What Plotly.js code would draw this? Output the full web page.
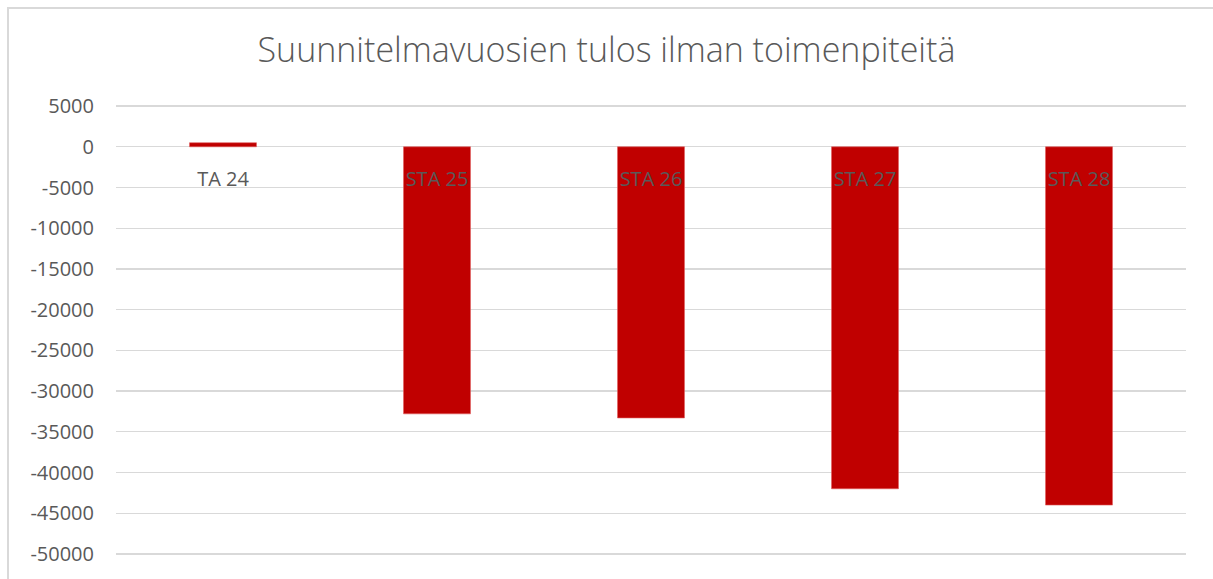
<!DOCTYPE html>
<html>
<head>
<meta charset="utf-8">
<script src="https://cdn.plot.ly/plotly-3.0.1.min.js"></script>
<style>
  html, body { margin: 0; padding: 0; background: #ffffff; }
  #wrap { position: relative; width: 1213px; height: 579px; }
  #chart { position: absolute; left: 0; top: 0; width: 1213px; height: 579px; }
  #frame { position: absolute; left: 7px; top: 7px; width: 1206px; height: 572px;
           border-top: 2px solid #d9d9d9; border-left: 2px solid #d9d9d9; box-sizing: border-box; pointer-events: none; }
</style>
</head>
<body>
<div id="wrap">
  <div id="chart"></div>
  <div id="frame"></div>
</div>
<script>
const categories = ["TA 24", "STA 25", "STA 26", "STA 27", "STA 28"];
const values = [500, -32800, -33300, -42000, -44000];
const yTicks = [5000, 0, -5000, -10000, -15000, -20000, -25000, -30000, -35000, -40000, -45000, -50000];
const yMin = -50500, yMax = 5500;
const titleText = "Suunnitelmavuosien tulos ilman toimenpiteitä";

const FONT = "'Open Sans', 'Noto Sans', sans-serif";
const GRAY = "#595959";

const trace = {
  type: "bar",
  x: categories,
  y: values,
  marker: { color: "#C00000", line: { color: "#e06060", width: 0.6 } },
  hoverinfo: "x+y"
};

const layout = {
  width: 1213,
  height: 579,
  paper_bgcolor: "#ffffff",
  plot_bgcolor: "#ffffff",
  margin: { l: 115.5, r: 26.5, t: 102.2, b: 20.6, pad: 0 },
  showlegend: false,
  bargap: 0.687,
  title: {
    text: titleText,
    font: { family: FONT, size: 34, color: GRAY, weight: 300 },
    x: 0.5, xanchor: "center",
    y: 1 - 50 / 579, yanchor: "middle"
  },
  xaxis: {
    type: "category",
    anchor: "free",
    position: (0 - yMin) / (yMax - yMin),
    showgrid: false,
    showline: false,
    zeroline: false,
    ticks: "",
    ticklabelstandoff: 18,
    tickfont: { family: FONT, size: 20, color: GRAY },
    layer: "above traces"
  },
  yaxis: {
    range: [yMin, yMax],
    tickvals: yTicks,
    ticktext: yTicks.map(String),
    showgrid: true,
    gridcolor: "#d9d9d9",
    gridwidth: 1.4,
    zeroline: true,
    zerolinecolor: "#d9d9d9",
    zerolinewidth: 1.4,
    showline: false,
    ticks: "",
    ticklabelstandoff: 21,
    tickfont: { family: FONT, size: 20, color: GRAY }
  }
};

Plotly.newPlot("chart", [trace], layout, { displayModeBar: false, staticPlot: true });
</script>
</body>
</html>
